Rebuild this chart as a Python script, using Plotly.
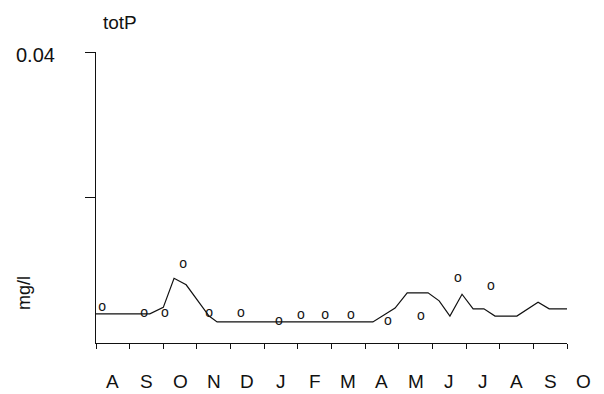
import plotly.graph_objects as go

# Model line (x in months from start of August, y in mg/l)
model_x = [0, 1.6, 2.0, 2.32, 2.68, 3.36, 3.6, 8.23, 8.89, 9.25, 9.87, 10.2,
           10.52, 10.88, 11.21, 11.53, 11.86, 12.51, 13.14, 13.47, 14.0]
model_y = [0.0040, 0.0040, 0.0049, 0.0089, 0.0080, 0.0037, 0.0029, 0.0029,
           0.0048, 0.0069, 0.0069, 0.0058, 0.0037, 0.0067, 0.0047, 0.0047,
           0.0037, 0.0037, 0.0056, 0.0047, 0.0047]

# Observations
obs_x = [0.18, 1.43, 2.05, 2.59, 3.36, 4.31, 5.44, 6.09, 6.81, 7.58, 8.68,
         9.66, 10.76, 11.74]
obs_y = [0.0049, 0.0041, 0.0041, 0.0108, 0.0041, 0.0041, 0.0030, 0.0038,
         0.0038, 0.0038, 0.0029, 0.0037, 0.0088, 0.0077]

month_labels = ["A", "S", "O", "N", "D", "J", "F", "M", "A", "M", "J", "J",
                "A", "S", "O"]
x_range = [0, 14]
y_tick_vals = [0.02, 0.04]
y_top_label = "0.04"
title_text = "totP"
unit_text = "mg/l"

FONT = "Liberation Sans"
INK = "#111111"

fig = go.Figure()
fig.add_trace(go.Scatter(x=model_x, y=model_y, mode="lines",
                         line=dict(color=INK, width=1.2), showlegend=False,
                         hoverinfo="skip"))
fig.add_trace(go.Scatter(x=obs_x, y=obs_y, mode="text", text=["o"] * len(obs_x),
                         textposition="middle center",
                         textfont=dict(family=FONT, size=14, color=INK),
                         showlegend=False, hoverinfo="skip", cliponaxis=False))

annotations = []
span = x_range[1] - x_range[0]
for i, m in enumerate(month_labels):
    annotations.append(dict(x=(i + 0.5 - x_range[0]) / span, xref="paper",
                            y=-0.134, yref="paper",
                            text=m, showarrow=False, xanchor="center",
                            yanchor="middle",
                            font=dict(family=FONT, size=19, color=INK)))
annotations.append(dict(x=-0.083, xref="paper", y=y_tick_vals[-1], yref="y",
                        text=y_top_label, showarrow=False, xanchor="right",
                        yanchor="middle", yshift=-3,
                        font=dict(family=FONT, size=20, color=INK)))
annotations.append(dict(x=0.051, xref="paper", y=1.103, yref="paper",
                        text=title_text, showarrow=False, xanchor="center",
                        yanchor="middle",
                        font=dict(family=FONT, size=19, color=INK)))
annotations.append(dict(x=-0.153, xref="paper", y=0.172, yref="paper",
                        text=unit_text, showarrow=False, textangle=-90,
                        xanchor="center", yanchor="middle",
                        font=dict(family=FONT, size=18, color=INK)))

fig.update_layout(
    width=604, height=394,
    margin=dict(l=96, r=37, t=52, b=51),
    paper_bgcolor="white", plot_bgcolor="white",
    annotations=annotations,
    xaxis=dict(range=x_range, tickvals=list(range(0, 15)), ticks="outside",
               ticklen=5, tickcolor=INK, tickwidth=1, showticklabels=False,
               showline=True, linecolor=INK, linewidth=1, showgrid=False,
               zeroline=False, fixedrange=True),
    yaxis=dict(range=[0, 0.04], tickvals=y_tick_vals, ticks="outside",
               ticklen=10, tickcolor=INK, tickwidth=1, showticklabels=False,
               showline=True, linecolor=INK, linewidth=1, showgrid=False,
               zeroline=False, fixedrange=True),
)

fig.write_html("out.html",
               config={"displayModeBar": False},
               post_script="document.body.style.margin='0px';"
                           "document.body.style.overflow='hidden';")
